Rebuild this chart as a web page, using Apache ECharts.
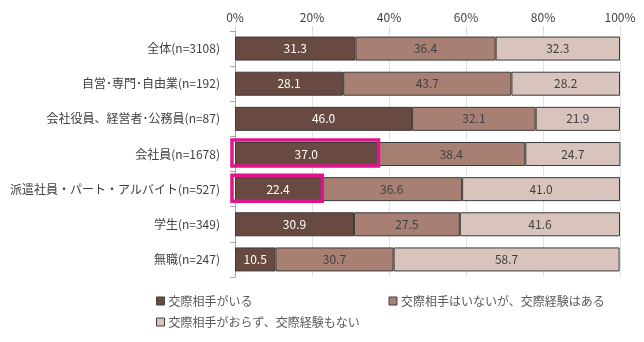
<!DOCTYPE html>
<html>
<head>
<meta charset="utf-8">
<script src="https://cdn.jsdelivr.net/npm/echarts@6/dist/echarts.min.js"></script>
<style>
  html, body { margin: 0; padding: 0; background: #fff; }
  #chart { width: 644px; height: 342px; }
</style>
</head>
<body>
<div id="chart"></div>
<script>
// Respondent groups (top to bottom)
const categories = [
  '全体(n=3108)',
  '自営･専門･自由業(n=192)',
  '会社役員、経営者･公務員(n=87)',
  '会社員(n=1678)',
  '派遣社員・パート・アルバイト(n=527)',
  '学生(n=349)',
  '無職(n=247)'
];

const seriesNames = [
  '交際相手がいる',
  '交際相手はいないが、交際経験はある',
  '交際相手がおらず、交際経験もない'
];

// Shares in percent
const hasPartner    = [31.3, 28.1, 46.0, 37.0, 22.4, 30.9, 10.5];
const hadPartner    = [36.4, 43.7, 32.1, 38.4, 36.6, 27.5, 30.7];
const neverPartner  = [32.3, 28.2, 21.9, 24.7, 41.0, 41.6, 58.7];

// Groups whose first segment is outlined in magenta
const emphasized = ['会社員(n=1678)', '派遣社員・パート・アルバイト(n=527)'];

const xTicks = [0, 20, 40, 60, 80, 100];

const colors = ['#694A40', '#A88073', '#D9C4BD'];
const labelColors = ['#FFFFFF', '#404040', '#404040'];
const FONT = '"Noto Sans CJK JP", "Noto Sans", sans-serif';
const BAR_W = 24;

const allValues = [hasPartner, hadPartner, neverPartner];

// Outline data: [category index, first-segment value]
const outlineData = categories
  .map((c, i) => (emphasized.includes(c) ? [i, hasPartner[i]] : null))
  .filter(Boolean);

const chart = echarts.init(document.getElementById('chart'), null, { renderer: 'canvas' });

const barSeries = allValues.map((vals, idx) => ({
  name: seriesNames[idx],
  type: 'bar',
  stack: 'total',
  barWidth: BAR_W,
  data: vals,
  itemStyle: { color: colors[idx], borderColor: '#3A3A3A', borderWidth: 1 },
  label: {
    show: true,
    position: 'inside',
    color: labelColors[idx],
    fontSize: 12,
    fontFamily: FONT,
    formatter: p => p.value.toFixed(1)
  }
}));

// Magenta frame around the highlighted first segments
const outlineSeries = {
  type: 'custom',
  name: 'outline',
  data: outlineData,
  encode: { x: 1, y: 0 },
  z: 10,
  silent: true,
  renderItem: (params, api) => {
    const cat = api.value(0);
    const v = api.value(1);
    const p0 = api.coord([0, cat]);
    const p1 = api.coord([v, cat]);
    const x0 = p0[0] - 3;
    const x1 = p1[0] + 1;
    const yc = p0[1];
    return {
      type: 'rect',
      shape: { x: x0, y: yc - 14, width: x1 - x0, height: 26 },
      style: { fill: null, stroke: '#E0148C', lineWidth: 3.5 }
    };
  }
};

chart.setOption({
  animation: false,
  backgroundColor: '#fff',
  textStyle: { fontFamily: FONT },
  grid: { left: 235, right: 24, top: 31, bottom: 65, containLabel: false },
  xAxis: {
    type: 'value',
    position: 'top',
    min: xTicks[0],
    max: xTicks[xTicks.length - 1],
    interval: 20,
    axisLine: { show: false },
    axisTick: { show: true, length: 5, lineStyle: { color: '#D9D9D9' } },
    splitLine: { show: true, lineStyle: { color: '#E3E3E3', width: 1 } },
    axisLabel: {
      color: '#404040', fontSize: 12, fontFamily: FONT, margin: 8,
      formatter: v => v + '%'
    }
  },
  yAxis: {
    type: 'category',
    inverse: true,
    data: categories,
    axisLine: { show: true, lineStyle: { color: '#A6A6A6' } },
    axisTick: { show: true, length: 5, lineStyle: { color: '#A6A6A6' } },
    axisLabel: { color: '#404040', fontSize: 12, fontFamily: FONT, margin: 15 }
  },
  legend: [
    {
      data: [seriesNames[0], seriesNames[1]],
      left: 151, top: 290,
      itemWidth: 8, itemHeight: 8, itemGap: 136,
      icon: 'rect',
      itemStyle: { borderColor: '#404040', borderWidth: 1 },
      textStyle: { color: '#595959', fontSize: 12, fontFamily: FONT, padding: [0, 0, 0, -1] }
    },
    {
      data: [seriesNames[2]],
      left: 151, top: 311,
      itemWidth: 8, itemHeight: 8,
      icon: 'rect',
      itemStyle: { borderColor: '#404040', borderWidth: 1 },
      textStyle: { color: '#595959', fontSize: 12, fontFamily: FONT, padding: [0, 0, 0, -1] }
    }
  ],
  series: barSeries.concat([outlineSeries])
});
</script>
</body>
</html>
